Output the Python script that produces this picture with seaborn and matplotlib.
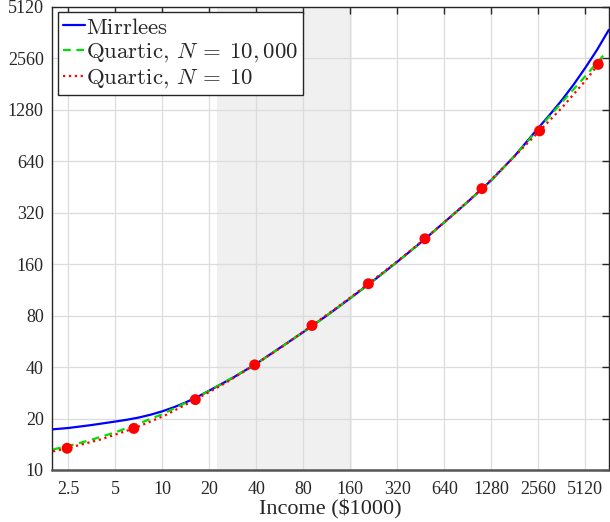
import matplotlib
matplotlib.use("Agg")
import matplotlib.pyplot as plt
import seaborn as sns
import pandas as pd

# ---- data ----
mirrlees_x = [2, 2.5, 3.5, 5, 5.95, 7.07, 8.41, 10, 11.9, 14.1, 16.8, 20, 28.3, 40, 56, 80, 113, 160,
              226, 320, 453, 640, 905, 1280, 1810, 2560, 3040, 3620, 4300, 5120, 6090, 7240]
mirrlees_y = [17.3, 17.6, 18.3, 19.2, 19.67, 20.26, 21.04, 22.03, 23.29, 24.82, 26.75, 29.1, 34.6, 41.8, 51.4, 64, 79.9, 101,
              128.3, 165, 214, 281, 370, 495, 688, 1000, 1199, 1454, 1790, 2250, 2867, 3750]

q10000_x = [2, 2.5, 3.5, 5, 7, 10, 14, 20, 28, 40, 56, 80, 113, 160, 226, 320, 453, 640, 905, 1280, 1810,
            2560, 3620, 5120, 6830]
q10000_y = [13.2, 13.8, 15.0, 16.6, 18.6, 21.2, 24.6, 29.0, 34.6, 41.7, 51.4, 64, 79.9, 101, 128.3, 165, 214, 281, 370, 493, 688,
            985, 1412, 2010, 2720]

q10_x = [2, 2.46, 4.02, 6.58, 10.36, 16.3, 25.2, 39.1, 59.6, 91, 137.9, 209, 317, 481, 732, 1115, 1700,
         2610, 3650, 5120, 6190, 6730]
q10_y = [12.85, 13.4, 15.07, 17.5, 20.8, 25.8, 32.1, 41.2, 53.1, 70.0, 92.0, 122.8, 165, 225, 312, 442, 646,
         962, 1323, 1887, 2355, 2610]

nodes_x = [2.46, 6.58, 16.3, 39.1, 91, 209, 481, 1115, 2610, 6190]
nodes_y = [13.4, 17.5, 25.8, 41.2, 70.0, 122.8, 225, 442, 962, 2355]

shade_lo, shade_hi = 22.3, 165

xticks = [2.5, 5, 10, 20, 40, 80, 160, 320, 640, 1280, 2560, 5120]
xtick_labels = ["2.5", "5", "10", "20", "40", "80", "160", "320", "640", "1280", "2560", "5120"]
yticks = [10, 20, 40, 80, 160, 320, 640, 1280, 2560, 5120]
ytick_labels = ["10", "20", "40", "80", "160", "320", "640", "1280", "2560", "5120"]

labels = [r"$\mathrm{Mirrlees}$", r"$\mathrm{Quartic,}\,N\:=\:10,000$", r"$\mathrm{Quartic,}\,N\:=\:10$"]

# ---- plot ----
sns.set_style("white")
plt.rcParams["font.family"] = ["Liberation Serif", "DejaVu Serif"]
plt.rcParams["mathtext.fontset"] = "cm"

fig = plt.figure(figsize=(6.1, 5.22), dpi=100)
ax = fig.add_axes([52 / 610, 1 - 470 / 522, 558 / 610 - 0.001, (470 - 6.7) / 522])

ax.set_xscale("log", base=2)
ax.set_yscale("log", base=2)

ax.axvspan(shade_lo, shade_hi, color="#f0f0f0", zorder=0, lw=0)

df_m = pd.DataFrame({"x": mirrlees_x, "y": mirrlees_y})
df_a = pd.DataFrame({"x": q10000_x, "y": q10000_y})
df_b = pd.DataFrame({"x": q10_x, "y": q10_y})
df_n = pd.DataFrame({"x": nodes_x, "y": nodes_y})

sns.lineplot(data=df_m, x="x", y="y", ax=ax, color="#0000ff", lw=1.6,
             estimator=None, sort=False, label=labels[0], zorder=3)
sns.lineplot(data=df_a, x="x", y="y", ax=ax, color="#00e000", lw=1.6,
             estimator=None, sort=False, label=labels[1], zorder=4)
ax.lines[-1].set_dashes((3.5, 2.5))
sns.lineplot(data=df_b, x="x", y="y", ax=ax, color="#ff0000", lw=1.6,
             estimator=None, sort=False, label=labels[2], zorder=5)
ax.lines[-1].set_linestyle(":")
sns.scatterplot(data=df_n, x="x", y="y", ax=ax, color="#ff0000", s=62,
                edgecolor="none", zorder=6, legend=False)

ax.set_xlim(1.97, 7300)
ax.set_ylim(10, 5120)

ax.set_xticks(xticks)
ax.set_xticklabels(xtick_labels)
ax.set_yticks(yticks)
ax.set_yticklabels(ytick_labels)
ax.minorticks_off()

ax.grid(True, color="#dcdcdc", lw=0.9, zorder=1)
ax.set_axisbelow(True)

ax.tick_params(axis="both", which="major", direction="in", length=5, width=1,
               top=True, right=True, labelsize=13, colors="#262626", pad=6)
ax.tick_params(axis="x", pad=8)
for s in ax.spines.values():
    s.set_visible(True)
    s.set_color("#262626")
    s.set_linewidth(1.0)
ax.spines["bottom"].set_color("#555555")
ax.spines["bottom"].set_linewidth(1.8)

ax.set_xlabel("Income (\\$1000)", fontsize=16, color="#262626", labelpad=1)
ax.set_ylabel("")

leg = ax.legend(loc="upper left", bbox_to_anchor=(0.0, 1.0), fontsize=16.5,
                frameon=True, fancybox=False, framealpha=1, edgecolor="#262626",
                handlelength=0.95, handletextpad=0.05, borderpad=0.22,
                labelspacing=0.13, borderaxespad=0.25)
leg.get_frame().set_linewidth(1.0)

fig.savefig("out.png", dpi=100)
